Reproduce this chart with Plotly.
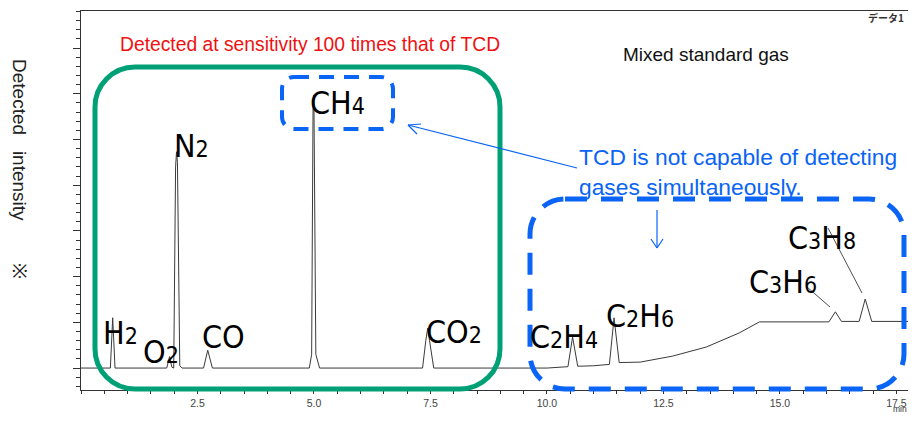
import plotly.graph_objects as go

# ---- data ----
time_min = [0.00, 0.63, 0.68, 0.73, 1.84, 1.90, 1.95, 1.99, 2.03, 2.05, 2.07, 2.12, 2.17,
            2.63, 2.72, 2.82, 4.90, 4.95, 4.98, 4.99, 5.00, 5.04, 5.12, 7.33, 7.40, 7.44,
            7.48, 7.57, 10.00, 10.45, 10.55, 10.66, 11.00, 11.34, 11.44, 11.55, 12.00,
            12.69, 13.42, 14.13, 14.56, 16.05, 16.19, 16.32, 16.70, 16.83, 16.97, 17.92]
intensity = [0.00, 0.00, 1.10, 0.00, 0.00, 0.25, 0.02, 0.00, 4.40, 4.73, 4.50, 0.05, 0.00,
             0.00, 0.39, 0.00, 0.00, 0.30, 5.70, 5.97, 5.70, 0.30, 0.00, 0.00, 0.60, 0.87,
             0.60, 0.00, 0.00, 0.03, 0.68, 0.04, 0.05, 0.08, 1.10, 0.12, 0.13,
             0.26, 0.46, 0.77, 1.01, 1.01, 1.23, 1.02, 1.02, 1.51, 1.02, 1.02]

x_tick_vals = [2.5, 5.0, 7.5, 10.0, 12.5, 15.0, 17.5]
x_tick_text = ["2.5", "5.0", "7.5", "10.0", "12.5", "15.0", "17.5"]

peak_names = ["H|2", "O|2", "N|2", "CO|", "CH|4", "CO|2", "C|2|H|4", "C|2|H|6", "C|3|H|6", "C|3|H|8"]

# ---- layout geometry ----
# The page places the figure 8px from the top-left corner (body margin);
# the figure is kept inside the 8px page margins so nothing scrolls.
OFF = 8
W, H = 916 - 2 * OFF, 422 - 2 * OFF          # 900 x 406, placed at page (8, 8)
PL, PR, PT, PB = 81, 908, 11, 390            # plot area in page pixels
L, T = PL - OFF, PT - OFF
R = (OFF + W) - PR
B = (OFF + H) - PB
PW, PH = PR - PL, PB - PT
X_PER_PX = 17.92 / 835.0                      # minutes per pixel
X_MAX = (PR - PL) * X_PER_PX


def px(x):
    return (x - PL) / PW


def py(y):
    return (PB - y) / PH


def rrect(x0, y0, x1, y1, r):
    k = 0.5523 * r

    def P(x, y):
        return f"{px(x):.5f},{py(y):.5f}"
    return (f"M{P(x0 + r, y0)} L{P(x1 - r, y0)} "
            f"C{P(x1 - r + k, y0)} {P(x1, y0 + r - k)} {P(x1, y0 + r)} "
            f"L{P(x1, y1 - r)} "
            f"C{P(x1, y1 - r + k)} {P(x1 - r + k, y1)} {P(x1 - r, y1)} "
            f"L{P(x0 + r, y1)} "
            f"C{P(x0 + r - k, y1)} {P(x0, y1 - r + k)} {P(x0, y1 - r)} "
            f"L{P(x0, y0 + r)} "
            f"C{P(x0, y0 + r - k)} {P(x0 + r - k, y0)} {P(x0 + r, y0)} Z")


def label_html(name):
    out = ""
    for p in name.split("|"):
        if p == "":
            continue
        if p.isdigit():
            out += f"<span style='font-size:23px'>{p}</span>"
        else:
            out += p
    return out


fig = go.Figure()
fig.add_trace(go.Scatter(x=time_min, y=intensity, mode="lines",
                         line=dict(color="#3a3a3a", width=1), hoverinfo="skip"))

GREEN = "#00a077"
BLUE = "#0a64f5"

shapes = [
    dict(type="path", xref="paper", yref="paper", path=rrect(95, 67, 500, 389, 40),
         line=dict(color=GREEN, width=5)),
    dict(type="path", xref="paper", yref="paper", path=rrect(282, 77, 393, 129, 12),
         line=dict(color=BLUE, width=4, dash="15px,10px")),
    dict(type="path", xref="paper", yref="paper", path=rrect(530, 199, 904, 389, 35),
         line=dict(color=BLUE, width=5, dash="22px,14px")),
]


def line(x0, y0, x1, y1, color, width=1):
    return dict(type="line", xref="paper", yref="paper", x0=px(x0), y0=py(y0),
                x1=px(x1), y1=py(y1), line=dict(color=color, width=width))


shapes += [
    line(577, 168, 408, 125, BLUE, 1.2),
    line(408, 125, 421, 124, BLUE, 1.2),
    line(408, 125, 417, 134, BLUE, 1.2),
    line(657, 210, 657, 248, BLUE, 1.2),
    line(657, 248, 651, 239, BLUE, 1.2),
    line(657, 248, 663, 239, BLUE, 1.2),
    line(807, 287, 830, 307, "#222", 0.8),
    line(828, 228, 862, 293, "#222", 0.8),
]

label_pos = [(120, 333), (161, 352), (191, 146), (223, 337), (337, 103), (454, 332),
             (564, 337), (640, 316), (783, 282), (822, 238)]

annotations = []
for name, (x, y) in zip(peak_names, label_pos):
    annotations.append(dict(xref="paper", yref="paper", x=px(x), y=py(y), text=label_html(name),
                            showarrow=False, xanchor="center", yanchor="middle",
                            font=dict(family="DejaVu Sans Condensed, Liberation Sans Narrow, sans-serif",
                                      size=32, color="#000")))

annotations += [
    dict(xref="paper", yref="paper", x=px(310), y=py(44), text="Detected at sensitivity 100 times that of TCD",
         showarrow=False, xanchor="center", yanchor="middle",
         font=dict(family="Liberation Sans, Arial", size=19.3, color="#ee1111")),
    dict(xref="paper", yref="paper", x=px(706), y=py(55), text="Mixed standard gas",
         showarrow=False, xanchor="center", yanchor="middle",
         font=dict(family="Liberation Sans, Arial", size=19, color="#111")),
    dict(xref="paper", yref="paper", x=px(577), y=py(172),
         text="TCD is not capable of detecting<br>gases simultaneously.",
         showarrow=False, xanchor="left", yanchor="middle", align="left",
         font=dict(family="Liberation Sans, Arial", size=22.8, color=BLUE)),
    dict(xref="paper", yref="paper", x=px(906), y=py(17), text="<b>データ1</b>",
         showarrow=False, xanchor="right", yanchor="middle",
         font=dict(family="Noto Sans CJK JP", size=10, color="#333")),
    dict(xref="paper", yref="paper", x=px(908), y=py(415), text="min",
         showarrow=False, xanchor="right", yanchor="bottom", borderpad=0,
         font=dict(family="Liberation Sans, Arial", size=8.5, color="#333")),
    dict(xref="paper", yref="paper", x=px(20), y=py(169),
         text="Detected\u00a0\u00a0\u00a0intensity" + "\u00a0" * 8 + "※",
         showarrow=False, xanchor="center", yanchor="middle", textangle=90,
         font=dict(family="Liberation Sans, Arial", size=19, color="#222")),
]

fig.update_layout(
    width=W, height=H,
    margin=dict(l=L, r=R, t=T, b=B, pad=0),
    paper_bgcolor="white", plot_bgcolor="white",
    showlegend=False,
    shapes=shapes,
    annotations=annotations,
    xaxis=dict(range=[0, X_MAX], showgrid=False, zeroline=False, showline=True,
               linecolor="#333", linewidth=1, mirror=True,
               ticks="outside", ticklen=3, tickcolor="#333", tickwidth=1,
               tickvals=x_tick_vals, ticktext=x_tick_text,
               tickfont=dict(family="Liberation Sans, Arial", size=10.5, color="#444"),
               minor=dict(dtick=0.5, tick0=0, ticks="outside", ticklen=3, tickcolor="#333")),
    yaxis=dict(range=[-0.48, 7.81], showgrid=False, zeroline=False, showline=True,
               linecolor="#333", linewidth=1,
               ticks="outside", ticklen=7, tickcolor="#333", dtick=1, tick0=0,
               showticklabels=False,
               minor=dict(dtick=0.2, tick0=0, ticks="outside", ticklen=4, tickcolor="#333")),
)

fig.write_html("out.html")
